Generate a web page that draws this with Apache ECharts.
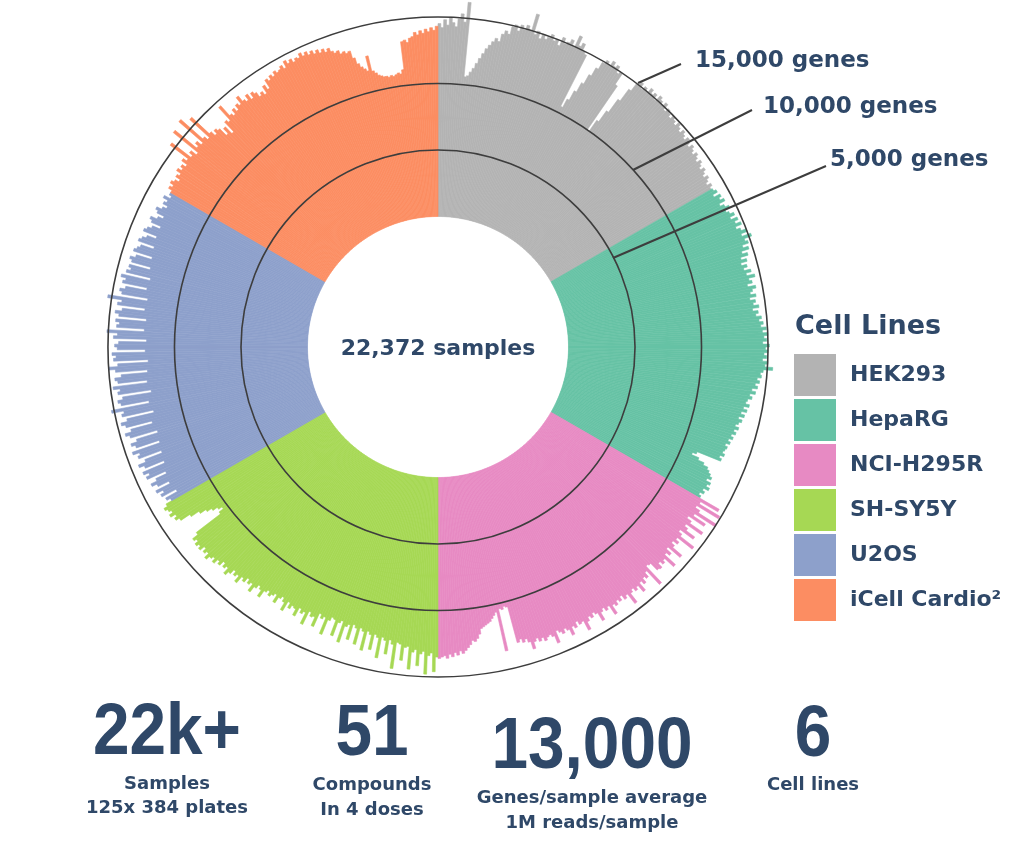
<!DOCTYPE html>
<html>
<head>
<meta charset="utf-8">
<script src="https://cdn.jsdelivr.net/npm/echarts@6/dist/echarts.min.js"></script>
<style>html,body{margin:0;padding:0;background:#fff}#main{width:1024px;height:847px}</style>
</head>
<body>
<div id="main"></div>
<script>
// ---- data (genes detected per sample, sampled along each cell line's sector) ----
const cellLines = ['HEK293', 'HepaRG', 'NCI-H295R', 'SH-SY5Y', 'U2OS', 'iCell Cardio\u00B2'];
const hek293 = [
  14500,14200,14800,14400,15000,14600,14300,14900,15300,14700,
  16200,10600,10700,11000,11300,11700,12100,12500,12900,13200,
  13500,13800,13600,14200,14500,14300,14900,15100,14700,15200,
  14900,15300,15000,16300,14800,15100,14600,15000,14700,14900,
  15200,14800,15000,14600,15300,14900,15100,15400,15000,15900,
  15200,15500,15000,14800,10500,11200,12000,12800,13600,14300,
  14900,15200,15000,15400,15100,15300,14800,15000,14000,10000,
  11000,12000,13200,14300,15000,15300,14900,15200,15000,15400,
  15100,15300,14900,15400,15200,15000,15300,14800,15100,14900,
  14700,15000,14800,14600,14900,14700,14500,14800,14600,14400,
  14700,14500,14300,14600,14400,14200,14500,14300,14100,14400,
  14200,14000,14300,14100,13900,14200,14000,13800,14100,13900
];
const hepaRG = [
  14000,14200,13800,14300,14100,14400,13900,14200,14500,14100,
  14300,14600,14200,14700,14400,14800,14300,14600,15000,14500,
  15200,14600,14800,14300,14700,14100,14500,13900,14300,13800,
  14200,13900,14400,14000,14600,14100,14300,13900,14500,14200,
  14000,14400,13900,14300,14100,14500,14000,14400,14200,14600,
  14400,14700,14500,14900,14600,15000,14700,14900,14600,15100,
  14800,15000,14700,14900,14600,15000,14800,15400,14700,14500,
  14600,14300,14500,14200,14400,14000,14300,13900,14100,13800,
  13700,14000,13600,13900,13500,13800,13400,13700,13500,13300,
  13600,13300,13500,13200,13400,13100,13300,13000,13200,13100,
  13000,13200,12900,13100,11200,10900,11500,12000,12400,12600,
  12800,13000,12700,13100,12900,13200,12800,13000,12700,12900
];
const nciH295R = [
  14600,13100,14900,13000,13400,15000,13200,14300,12900,13300,
  14500,13100,13400,14200,13000,13300,14600,13200,13500,13100,
  13400,14300,13100,13600,13300,14400,13500,13700,13400,13800,
  13700,13000,12900,14600,13200,13600,13400,13800,13500,14200,
  13600,13800,13500,13700,14500,13600,13800,13400,13700,13500,
  13800,13600,14300,13500,13700,13400,13600,14200,13500,13300,
  13600,13400,13700,14300,13500,13600,13300,13700,13500,14100,
  13600,13400,13700,13500,13300,14200,13600,13400,13500,13700,
  13400,13600,13300,13500,14000,13400,13100,13300,13000,13200,
  10400,10300,10500,10400,13600,10600,10800,11000,11200,11300,
  11400,11500,11600,12000,12300,12500,12400,12700,12900,13100,
  13300,13100,13400,13200,13500,13300,13600,13400,13500,13600
];
const shSY5Y = [
  13500,14600,13200,13400,14800,13100,13300,14200,13000,13200,
  14500,12800,12900,13900,12700,12600,14600,12800,12500,13600,
  12600,12400,14000,12500,12300,13500,12400,12200,13700,12300,
  12100,13400,12200,12000,13200,12100,12300,13600,12000,12200,
  13300,12100,12000,12300,13500,12200,12400,12100,13200,12500,
  12600,12300,13400,12500,12700,12400,13100,12600,12500,12800,
  12400,13200,12600,12300,12500,13000,12400,12600,12800,12500,
  12700,13300,12800,12600,12900,13400,12800,13000,12700,13100,
  12900,13500,13000,13200,12900,13300,13600,13100,13300,13000,
  13400,13200,13600,13300,13500,13800,13400,13600,13300,13700,
  13500,13700,13400,13600,13100,10800,10400,10700,11100,11500,
  12000,12700,13500,13800,13600,14000,13700,13900,14100,13800
];
const u2os = [
  13300,13600,12600,13800,13500,14000,12800,13700,14100,13600,
  12700,14200,13900,14300,12500,14000,14400,13800,12400,14200,
  14000,14500,12300,14100,14400,13900,12200,14300,14600,14100,
  12400,14400,14700,14200,12100,14500,14300,15200,12300,14400,
  14600,14200,12000,14500,14300,14800,12200,14400,14600,14100,
  12100,14500,15000,14300,12000,14600,14400,14700,12200,14300,
  14500,14200,12100,14600,14300,15100,12300,14400,14200,14500,
  12200,14300,14600,14100,12400,14500,14200,15300,12300,14300,
  14500,14100,12500,14400,14200,14600,12400,14300,14000,14200,
  12600,14100,14300,13900,12700,14200,14000,13800,12800,14100,
  13900,13600,12900,14000,13800,13500,12900,13700,13900,13400,
  13000,13600,13800,13400,13100,13500,13300,13700,13200,13400
];
const iCellCardio = [
  13400,13700,13500,13800,13600,13300,13700,13500,13900,13600,
  13800,13500,14000,13700,15400,13600,13900,13400,15800,13700,
  14000,13600,16000,13800,13500,15500,13700,13300,13600,13400,
  12700,13200,12500,13500,13300,14600,13600,13400,13800,13500,
  13900,13700,14300,13800,13600,14000,13500,13900,13700,13300,
  13500,13200,13800,13400,14100,13900,14200,14000,14300,14100,
  14200,14400,14100,14600,14300,14500,14200,14400,14300,14600,
  14300,14500,14200,14400,14100,14300,14000,14200,13900,14100,
  13800,13600,13700,13400,13500,13300,13400,12800,12300,12000,
  11800,11600,12700,11500,11300,11100,11000,10900,10900,10800,
  10900,10800,10900,11000,10900,11200,13300,13400,13200,13500,
  13600,13900,13700,14000,13800,14100,13900,14200,14000,14300
];
const ringValues = [5000, 10000, 15000];
const ringLabels = ['15,000 genes', '10,000 genes', '5,000 genes'];
const totalLabel = '22,372 samples';
const legendTitle = 'Cell Lines';
const statNumbers = ['22k+', '51', '13,000', '6'];
const statCaptions = [
  ['Samples', '125x 384 plates'],
  ['Compounds', 'In 4 doses'],
  ['Genes/sample average', '1M reads/sample'],
  ['Cell lines']
];

// ---- styling ----
const colors = ['#b3b3b3', '#66c2a5', '#e78ac3', '#a6d854', '#8da0cb', '#fc8d62'];
const navy = '#2f4868';
const lineDark = '#3d3d3d';
const geoFont = "'DejaVu Sans', sans-serif";
const numFont = "'Liberation Sans', Arial, sans-serif";

const values = [hek293, hepaRG, nciH295R, shSY5Y, u2os, iCellCardio];
const total = values.reduce((s, a) => s + a.length, 0);
const categories = [];
for (let i = 0; i < total; i++) categories.push(String(i + 1));

let offset = 0;
const series = cellLines.map((name, k) => {
  const arr = values[k];
  const data = [];
  for (let i = 0; i < total; i++) {
    data.push(i >= offset && i < offset + arr.length ? arr[i - offset] : '-');
  }
  offset += arr.length;
  return {
    type: 'bar',
    name: name,
    coordinateSystem: 'polar',
    data: data,
    barGap: '-100%',
    barCategoryGap: '0%',
    itemStyle: { color: colors[k], borderColor: colors[k], borderWidth: 0.6 },
    emphasis: { disabled: true },
    silent: true,
    z: 2
  };
});

const graphics = [];
// center label
graphics.push({
  type: 'text', z: 20,
  style: { x: 438, y: 349, text: totalLabel, fill: navy, font: "bold 22px " + geoFont, textAlign: 'center', textVerticalAlign: 'middle' }
});
// ring leader lines and labels
const leaders = [
  { from: [638, 83], to: [681, 64], label: [695, 61] },
  { from: [633, 170], to: [752, 110], label: [763, 107] },
  { from: [613, 258], to: [826, 166], label: [830, 160] }
];
leaders.forEach((ld, i) => {
  graphics.push({
    type: 'line', z: 20,
    shape: { x1: ld.from[0], y1: ld.from[1], x2: ld.to[0], y2: ld.to[1] },
    style: { stroke: lineDark, lineWidth: 2 }
  });
  graphics.push({
    type: 'text', z: 20,
    style: { x: ld.label[0], y: ld.label[1], text: ringLabels[i], fill: navy, font: "bold 23px " + geoFont, textAlign: 'left', textVerticalAlign: 'middle' }
  });
});
// legend title
graphics.push({
  type: 'text', z: 20,
  style: { x: 795, y: 327, text: legendTitle, fill: navy, font: "bold 27px " + geoFont, textAlign: 'left', textVerticalAlign: 'middle' }
});
// bottom statistics
const statX = [167, 372, 592, 813];
const statNumY = [734, 735, 748, 736];
const statCapY = [[784, 808], [785, 810], [798, 823], [785]];
statNumbers.forEach((t, i) => {
  graphics.push({
    type: 'text', z: 20, x: statX[i], y: statNumY[i], scaleX: 0.9,
    style: { x: 0, y: 0, text: t, fill: navy, font: "bold 73px " + numFont, textAlign: 'center', textVerticalAlign: 'middle' }
  });
  statCaptions[i].forEach((c, j) => {
    graphics.push({
      type: 'text', z: 20,
      style: { x: statX[i], y: statCapY[i][j], text: c, fill: navy, font: "bold 18px " + geoFont, textAlign: 'center', textVerticalAlign: 'middle' }
    });
  });
});

const chart = echarts.init(document.getElementById('main'), null, { renderer: 'canvas' });
chart.setOption({
  animation: false,
  backgroundColor: '#ffffff',
  polar: { center: [438, 347], radius: [130.5, 350] },
  angleAxis: {
    type: 'category', data: categories, startAngle: 90, clockwise: true, boundaryGap: true,
    axisLine: { show: false }, axisTick: { show: false }, axisLabel: { show: false }, splitLine: { show: false }
  },
  radiusAxis: {
    type: 'value', min: 0, max: 16500, interval: 5000, z: 10,
    axisLine: { show: false }, axisTick: { show: false }, axisLabel: { show: false },
    splitLine: { show: true, lineStyle: { color: ['rgba(0,0,0,0)', lineDark, lineDark, lineDark, 'rgba(0,0,0,0)'], width: 1.6 } }
  },
  legend: {
    orient: 'vertical', left: 794, top: 354, padding: 0, itemWidth: 42, itemHeight: 42, itemGap: 3,
    icon: 'rect', selectedMode: false, data: cellLines,
    itemStyle: { borderWidth: 0 },
    textStyle: { fontFamily: geoFont, fontWeight: 'bold', fontSize: 22, color: navy, padding: [0, 0, 0, 9] }
  },
  graphic: graphics,
  series: series
});
</script>
</body>
</html>
